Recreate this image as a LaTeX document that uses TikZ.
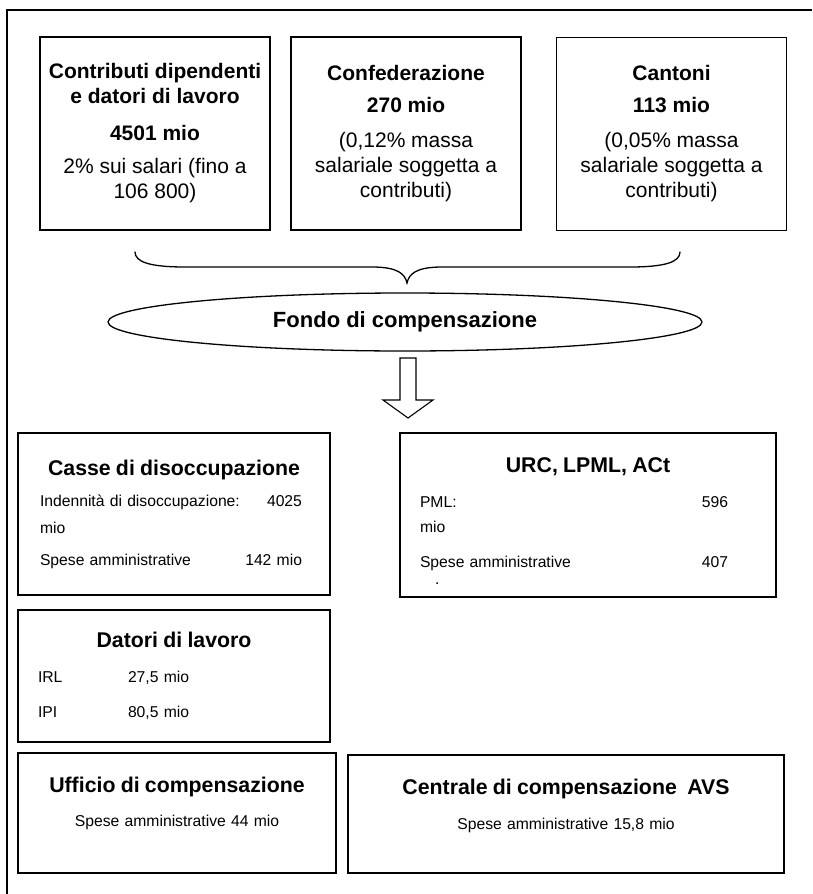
\documentclass[tikz,border=0pt]{standalone}
\usepackage{fontspec}
\setmainfont{Liberation Sans}
\usetikzlibrary{shapes.geometric}

\newcommand\boxtitle[1]{\makebox[\hsize]{\bfseries\fontsize{21.3}{25}\selectfont #1}}
\newcommand\costline[3]{\makebox[#1]{#2\hfill #3}}

\begin{document}
\begin{tikzpicture}[x=1pt,y=-1pt,
    srcbox/.style={rectangle,draw,line width=1.6pt,
                   minimum width=230pt,minimum height=193pt,
                   align=center,font=\fontsize{21}{25}\selectfont},
    costbox/.style={rectangle,draw,line width=1.6pt,
                    align=left,font=\fontsize{15.7}{27}\selectfont},
    pool/.style={ellipse,draw,line width=1.3pt,
                 minimum width=594pt,minimum height=58pt,
                 font=\bfseries\fontsize{22}{26}\selectfont},
    bracepath/.style={line width=1.3pt,line cap=round},
    blockarrow/.style={line width=1.1pt,line join=miter,fill=white},
  ]
    \useasboundingbox (0,0) rectangle (812,894);

    % outer frame (only left and top edges show)
    \draw[line width=1.6pt] (7,894) -- (7,10) -- (812,10);

    % sources of money, top row
    \node[srcbox] (contrib) at (155,133.5)
      {\textbf{Contributi dipendenti}\\\textbf{e datori di lavoro}\\[12pt]%
       \textbf{4501 mio}\\[8pt]2\% sui salari (fino a\\106 800)};
    \node[srcbox] (confed) at (406,133.5)
      {\textbf{Confederazione}\\[7pt]\textbf{270 mio}\\[10pt]%
       (0,12\% massa\\salariale soggetta a\\contributi)};
    \node[srcbox] (cantoni) at (671.5,134)
      {\textbf{Cantoni}\\[7pt]\textbf{113 mio}\\[10pt]%
       (0,05\% massa\\salariale soggetta a\\contributi)};

    % brace gathering the three sources
    \draw[bracepath] (135,252) .. controls (135,262) and (150,267) .. (185,267)
      -- (372,267) .. controls (398,267) and (405,274) .. (407,283)
      .. controls (409,274) and (416,267) .. (442,267)
      -- (630,267) .. controls (665,267) and (680,262) .. (680,252);

    % the fund
    \node[pool] (fondo) at (405,322) {Fondo di compensazione};

    % hollow arrow down to the users of the fund
    \draw[blockarrow] (400,358) -- (400,400) -- (383,400) -- (408,418)
      -- (433,400) -- (416,400) -- (416,358) -- cycle;

    % where the money goes
    \node[costbox,minimum width=312pt,minimum height=162pt,text width=268pt]
      (casse) at (174,514)
      {\boxtitle{Casse di disoccupazione}\\[4pt]
       \costline{262pt}{Indennità di disoccupazione:}{4025}\\
       mio\\[5pt]
       \costline{262pt}{Spese amministrative}{142 mio}};
    \node[costbox,minimum width=376pt,minimum height=164pt,text width=336pt]
      (urc) at (588,515)
      {\rule{0pt}{27.7pt}\boxtitle{URC, LPML, ACt}\\[8pt]
       \costline{308pt}{PML:}{596}\\[-2pt]
       mio\\[8pt]
       \costline{308pt}{Spese amministrative}{407}\\[-10pt]
       \hspace*{15pt}.};
    \node[costbox,minimum width=312pt,minimum height=132pt,text width=272pt]
      (datori) at (174,676)
      {\boxtitle{Datori di lavoro}\\[8pt]
       \makebox[90pt][l]{IRL}27,5 mio\\[8pt]
       \makebox[90pt][l]{IPI}80,5 mio};
    \node[costbox,align=center,minimum width=318pt,minimum height=120pt,text width=300pt]
      (ufficio) at (177,813)
      {\textbf{\fontsize{21.3}{25}\selectfont Ufficio di compensazione}\\[7pt]
       Spese amministrative 44 mio\rule[-21.7pt]{0pt}{21.7pt}};
    \node[costbox,align=center,minimum width=436pt,minimum height=118pt,text width=400pt]
      (centrale) at (566,814)
      {\textbf{\fontsize{21.3}{25}\selectfont Centrale di compensazione~~AVS}\\[8pt]
       Spese amministrative 15,8 mio\rule[-18.7pt]{0pt}{18.7pt}};
\end{tikzpicture}
\end{document}
